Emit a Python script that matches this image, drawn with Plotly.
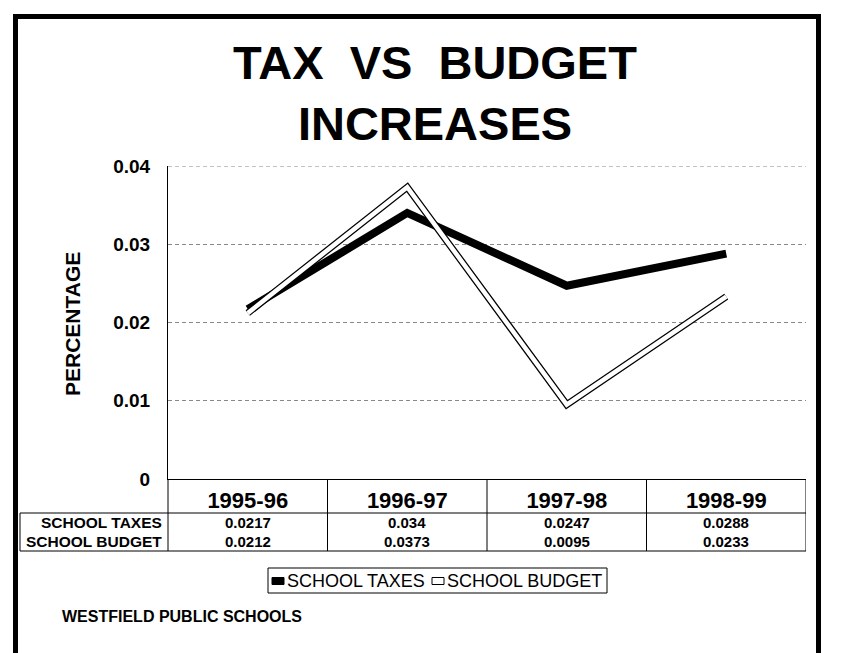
import plotly.graph_objects as go

# ---- data ----
years = ["1995-96", "1996-97", "1997-98", "1998-99"]
school_taxes = [0.0217, 0.034, 0.0247, 0.0288]
school_budget = [0.0212, 0.0373, 0.0095, 0.0233]
series_names = ["SCHOOL TAXES", "SCHOOL BUDGET"]
y_ticks = [0, 0.01, 0.02, 0.03, 0.04]
y_tick_text = ["0", "0.01", "0.02", "0.03", "0.04"]
title_lines = ["TAX  VS  BUDGET", "INCREASES"]
footer = "WESTFIELD PUBLIC SCHOOLS"

OFF = 8                      # page body margin
W, H = 844 - OFF, 653 - OFF
L, R, T, B = 168, 806, 166, 479   # plot area in reference pixels
FONT = "Arial, Liberation Sans, sans-serif"

def px(xp):
    return (xp - L) / (R - L)

def py(yp):
    return (B - yp) / (B - T)

fig = go.Figure()

# school taxes: thick black line
fig.add_trace(go.Scatter(x=years, y=school_taxes, mode="lines", name=series_names[0],
                         line=dict(color="black", width=8), showlegend=False))
# school budget: white line with black outline
fig.add_trace(go.Scatter(x=years, y=school_budget, mode="lines", name=series_names[1] + " outline",
                         line=dict(color="black", width=7), showlegend=False, hoverinfo="skip"))
fig.add_trace(go.Scatter(x=years, y=school_budget, mode="lines", name=series_names[1],
                         line=dict(color="white", width=4.5), showlegend=False))

shapes = []
# outer frame
shapes.append(dict(type="rect", xref="paper", yref="paper",
                   x0=px(15.5), x1=px(818.5), y0=py(720), y1=py(16.5),
                   line=dict(color="black", width=5), layer="above"))
# dashed top gridline at 0.04
shapes.append(dict(type="line", xref="paper", yref="y", x0=0, x1=1, y0=y_ticks[-1], y1=y_ticks[-1],
                   line=dict(color="#888888", width=1, dash="4px,3px")))
# table lines
row_line = 513
table_bottom = 551
table_left = 20
line_style = dict(color="black", width=1)
shapes.append(dict(type="line", xref="paper", yref="paper", x0=px(table_left), x1=1,
                   y0=py(row_line), y1=py(row_line), line=line_style))
shapes.append(dict(type="line", xref="paper", yref="paper", x0=px(table_left), x1=1,
                   y0=py(table_bottom), y1=py(table_bottom), line=line_style))
shapes.append(dict(type="line", xref="paper", yref="paper", x0=px(table_left), x1=px(table_left),
                   y0=py(row_line), y1=py(table_bottom), line=line_style))
shapes.append(dict(type="line", xref="paper", yref="paper", x0=0, x1=0,
                   y0=0, y1=py(table_bottom), line=line_style))
for i in range(len(years)):
    shapes.append(dict(type="line", xref="x", yref="paper", x0=i + 0.5, x1=i + 0.5,
                       y0=0, y1=py(table_bottom), line=line_style))

annotations = []
# table row labels and values
row_centers = [522, 541]
for name, vals, yc in zip(series_names, [school_taxes, school_budget], row_centers):
    annotations.append(dict(text="<b>%s</b>" % name, xref="paper", yref="paper",
                            x=px(164), y=py(yc), xanchor="right", yanchor="middle",
                            showarrow=False, font=dict(family=FONT, size=15.5, color="black")))
    for yr, v in zip(years, vals):
        annotations.append(dict(text="<b>%s</b>" % v, xref="x", yref="paper",
                                x=yr, y=py(yc), xanchor="center", yanchor="middle",
                                showarrow=False, font=dict(family=FONT, size=15, color="black")))

# legend (drawn manually to match the boxed Excel style)
leg_top, leg_bot = 568, 593
leg_mid = (leg_top + leg_bot) / 2
leg_left, leg_right = 268, 607
shapes.append(dict(type="rect", xref="paper", yref="paper", x0=px(leg_left), x1=px(leg_right),
                   y0=py(leg_bot), y1=py(leg_top), line=dict(color="black", width=1),
                   fillcolor="white"))
sym1 = 272
shapes.append(dict(type="rect", xref="paper", yref="paper", x0=px(sym1), x1=px(sym1 + 12),
                   y0=py(leg_mid + 4), y1=py(leg_mid - 3), line=dict(color="black", width=1),
                   fillcolor="black"))
annotations.append(dict(text=series_names[0], xref="paper", yref="paper", x=px(sym1 + 13),
                        y=py(leg_mid), xanchor="left", yanchor="middle", showarrow=False,
                        font=dict(family=FONT, size=18, color="black")))
sym2 = 432
shapes.append(dict(type="rect", xref="paper", yref="paper", x0=px(sym2), x1=px(sym2 + 12),
                   y0=py(leg_mid + 4), y1=py(leg_mid - 3), line=dict(color="black", width=1),
                   fillcolor="white"))
annotations.append(dict(text=series_names[1], xref="paper", yref="paper", x=px(sym2 + 13),
                        y=py(leg_mid), xanchor="left", yanchor="middle", showarrow=False,
                        font=dict(family=FONT, size=18, color="black")))

# footer
annotations.append(dict(text="<b>%s</b>" % footer, xref="paper", yref="paper", x=px(60),
                        y=py(616), xanchor="left", yanchor="middle", showarrow=False,
                        font=dict(family=FONT, size=16, color="black")))

# y-axis title
annotations.append(dict(text="<b>PERCENTAGE</b>", xref="paper", yref="paper", x=px(72),
                        y=py(324), xanchor="center", yanchor="middle", textangle=-90,
                        showarrow=False, font=dict(family=FONT, size=21, color="black")))

fig.update_layout(
    width=W, height=H, autosize=False,
    margin=dict(l=L - OFF, r=W - (R - OFF), t=T - OFF, b=H - (B - OFF), pad=0),
    paper_bgcolor="white", plot_bgcolor="white",
    title=dict(text="<b>%s<br>%s</b>" % tuple(title_lines), xref="container", yref="container",
               x=(435 - OFF) / W, xanchor="center", y=1 - 71 / H, yanchor="top",
               font=dict(family=FONT, size=47, color="black")),
    shapes=shapes, annotations=annotations, showlegend=False,
    xaxis=dict(type="category", categoryorder="array", categoryarray=years,
               range=[-0.5, 3.5], showline=True, linecolor="black", linewidth=1,
               showgrid=False, zeroline=False, ticks="", ticklabelstandoff=2,
               tickfont=dict(family=FONT, size=22, color="black", weight="bold"), fixedrange=True),
    yaxis=dict(range=[0, 0.04], tickvals=y_ticks, ticktext=y_tick_text,
               showline=True, linecolor="black", linewidth=1, zeroline=False,
               showgrid=True, gridcolor="#888888", gridwidth=1, griddash="4px,3px",
               ticks="", ticklabelstandoff=13,
               tickfont=dict(family=FONT, size=19, color="black", weight="bold"), fixedrange=True),
)

fig.write_html("out.html")
